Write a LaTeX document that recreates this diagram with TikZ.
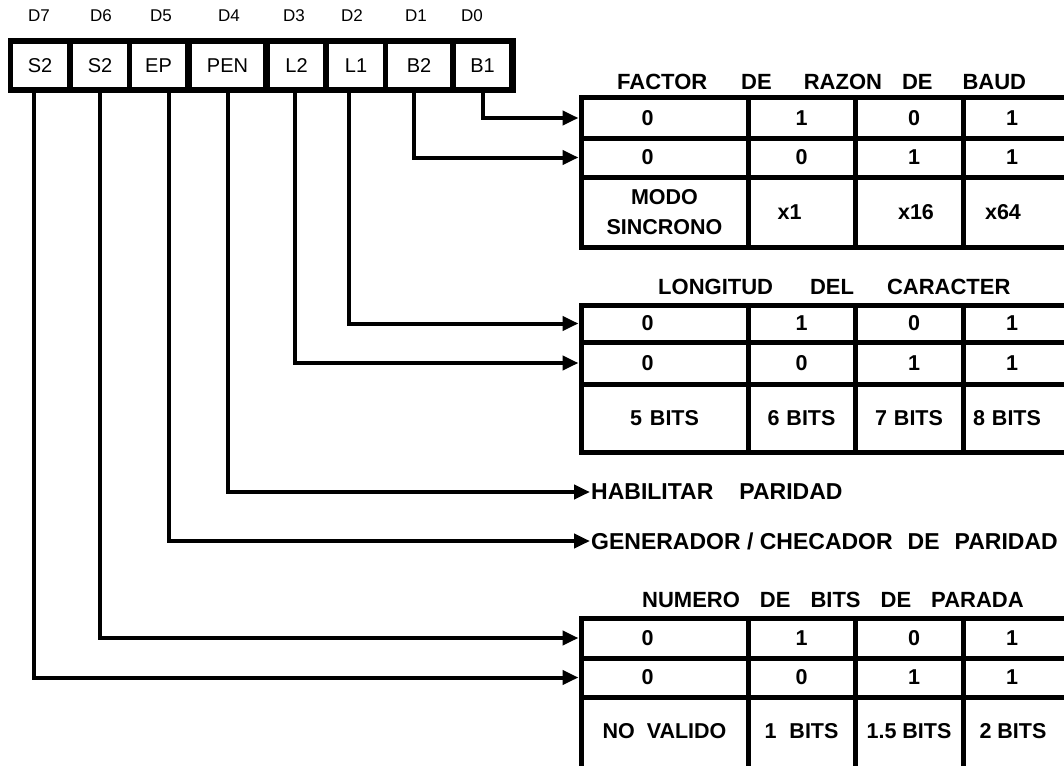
\documentclass[tikz,border=0pt]{standalone}
\usepackage{fontspec}
\setmainfont{Liberation Sans}
\usetikzlibrary{arrows.meta,calc}
\newcommand\mytrow[8]{%
  \node[tcell, minimum width=167pt, minimum height=#3pt] (#1a) at (664.5,#2) {#4};
  \node[tcell, minimum width=107pt, minimum height=#3pt] (#1b) at (801.5,#2) {#5};
  \node[tcell, minimum width=108pt, minimum height=#3pt] (#1c) at (909,#2) {#6};
  \node[tcell, minimum width=108pt, minimum height=#3pt] (#1d) at (1017,#2) {#7};}
\begin{document}
\begin{tikzpicture}[x=1pt,y=-1pt,
  regcell/.style={fill=white, inner sep=0pt, minimum height=43pt, font=\fontsize{20}{20}\selectfont},
  dlabel/.style={inner sep=0pt, font=\fontsize{17}{17}\selectfont},
  tcell/.style={draw=black, line width=5pt, fill=white, inner sep=0pt, align=center,
    font=\bfseries\fontsize{21.5}{30}\selectfont},
  ttitle/.style={inner sep=0pt, anchor=west, font=\bfseries\fontsize{22}{22}\selectfont},
  flabel/.style={inner sep=1pt, anchor=west, font=\bfseries\fontsize{23}{23}\selectfont},
  conn/.style={line width=4pt, -{Triangle[length=16pt,width=14pt]}},
]
\useasboundingbox (0,0) rectangle (1064,765);
\clip (0,0) rectangle (1064,765);
\fill[white] (0,0) rectangle (1064,765);

% bit labels
\node[dlabel] (d7) at (39,16) {D7};
\node[dlabel] (d6) at (101,16) {D6};
\node[dlabel] (d5) at (161,16) {D5};
\node[dlabel] (d4) at (229,16) {D4};
\node[dlabel] (d3) at (294,16) {D3};
\node[dlabel] (d2) at (352,16) {D2};
\node[dlabel] (d1) at (416,16) {D1};
\node[dlabel] (d0) at (472,16) {D0};

% register
\node[fill=black, minimum width=508pt, minimum height=55pt, inner sep=0pt] (reg) at (262,65.5) {};
\node[regcell, minimum width=54pt] (c7) at (40,65.5) {S2};
\node[regcell, minimum width=54pt] (c6) at (100,65.5) {S2};
\node[regcell, minimum width=53pt] (c5) at (158.5,65.5) {EP};
\node[regcell, minimum width=71pt] (c4) at (227.5,65.5) {PEN};
\node[regcell, minimum width=53pt] (c3) at (296.5,65.5) {L2};
\node[regcell, minimum width=54pt] (c2) at (356,65.5) {L1};
\node[regcell, minimum width=62pt] (c1) at (419,65.5) {B2};
\node[regcell, minimum width=53pt] (c0) at (482.5,65.5) {B1};

% table 1
\node[ttitle] (t1title) at (617,82) {FACTOR\hspace{34pt}DE\hspace{32pt}RAZON\hspace{20pt}DE\hspace{30pt}BAUD};
\mytrow{t1r1}{118}{40}{0\hspace*{34pt}}{1}{\hspace*{10pt}0}{1\hspace*{10pt}}{}
\mytrow{t1r2}{157.5}{39}{0\hspace*{34pt}}{0}{\hspace*{10pt}1}{1\hspace*{10pt}}{}
\mytrow{t1r3}{212}{70}{MODO\\SINCRONO}{\raisebox{-8pt}{x1}\hspace*{24pt}}{\hspace*{14pt}\raisebox{-8pt}{x16}}{\raisebox{-8pt}{x64}\hspace*{28pt}}{}

% table 2
\node[ttitle] (t2title) at (658,287) {LONGITUD\hspace{37pt}DEL\hspace{33pt}CARACTER};
\mytrow{t2r1}{323.5}{37}{0\hspace*{34pt}}{1}{\hspace*{10pt}0}{1\hspace*{10pt}}{}
\mytrow{t2r2}{363}{42}{0\hspace*{34pt}}{0}{\hspace*{10pt}1}{1\hspace*{10pt}}{}
\mytrow{t2r3}{418}{68}{5\hspace{8pt}BITS}{6\hspace{7pt}BITS}{7\hspace{7pt}BITS}{8\hspace{7pt}BITS\hspace*{20pt}}{}

% parity labels
\node[flabel] (hab) at (590,492) {HABILITAR\hspace{26pt}PARIDAD};
\node[flabel] (gen) at (590,541) {GENERADOR / CHECADOR\hspace{15pt}DE\hspace{15pt}PARIDAD};

% table 3
\node[ttitle] (t3title) at (642,600) {NUMERO\hspace{20pt}DE\hspace{20pt}BITS\hspace{20pt}DE\hspace{20pt}PARADA};
\mytrow{t3r1}{638}{40}{0\hspace*{34pt}}{1}{\hspace*{10pt}0}{1\hspace*{10pt}}{}
\mytrow{t3r2}{677.5}{39}{0\hspace*{34pt}}{0}{\hspace*{10pt}1}{1\hspace*{10pt}}{}
\mytrow{t3r3}{733}{72}{\raisebox{4pt}{NO\hspace{12pt}VALIDO}}{\raisebox{4pt}{1\hspace{13pt}BITS}}{\raisebox{4pt}{1.5 BITS}}{\raisebox{4pt}{2 BITS}\hspace*{8pt}}{}

% connectors
\draw[conn] (c0.south |- reg.south) |- (t1r1a.west);
\draw[conn] ($(c1.south |- reg.south)+(-5,0)$) |- (t1r2a.west);
\draw[conn] ($(c2.south |- reg.south)+(-7,0)$) |- (t2r1a.west);
\draw[conn] ($(c3.south |- reg.south)+(-2,0)$) |- (t2r2a.west);
\draw[conn] (c4.south |- reg.south) |- (hab.west);
\draw[conn] ($(c5.south |- reg.south)+(10,0)$) |- (gen.west);
\draw[conn] (c6.south |- reg.south) |- (t3r1a.west);
\draw[conn] ($(c7.south |- reg.south)+(-6,0)$) |- (t3r2a.west);
\end{tikzpicture}
\end{document}
